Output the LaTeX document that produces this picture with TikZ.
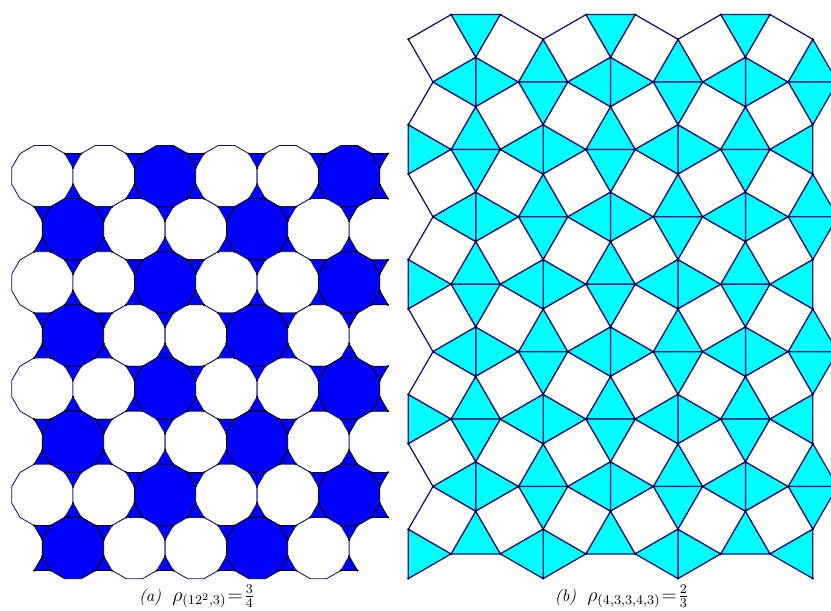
\documentclass[tikz,border=0pt]{standalone}
\usepackage{amsmath}
\definecolor{edge}{RGB}{16,16,128}
\definecolor{tblue}{RGB}{0,0,255}
\definecolor{tcyan}{RGB}{0,255,255}
\tikzset{
  dod/.style={draw=edge,line width=0.5pt,fill=white,line join=round},
  dodb/.style={dod,draw=black,fill=tblue},
  tri/.style={dodb},
  sq/.style={draw=edge,line width=0.75pt,fill=white,line join=round},
  trc/.style={sq,fill=tcyan},
  vdot/.style={fill=black},
  capt/.style={anchor=base,font=\normalsize},
}
\newcommand\capmath[1]{{\large$#1$}}

\begin{document}
\begin{tikzpicture}[x=0.6pt,y=-0.6pt]
\useasboundingbox (0,0) rectangle (831,610);
% (a) dodecagons and triangles
\begin{scope}[shift={(42.4,176.1)},x=36.81pt,y=36.81pt]
\foreach \r in {0,...,7}{
  \pgfmathsetmacro\yy{-0.866025*\r}
  \pgfmathtruncatemacro\odd{mod(\r,2)}
  \foreach \c in {0,...,5}{
    \pgfmathsetmacro\tx{\c+0.5-0.5*\odd}
    \filldraw[tri,shift={(\tx,\yy+0.288675)}] (-90:0.154701) -- (30:0.154701) -- (150:0.154701) -- cycle;
    \filldraw[tri,shift={(\tx,\yy-0.288675)}] (90:0.154701) -- (210:0.154701) -- (330:0.154701) -- cycle;
  }
  \foreach \c in {0,...,5}{
    \pgfmathtruncatemacro\skp{\odd*(\c==5)}
    \ifnum\skp=0
      \pgfmathsetmacro\dx{\c+0.5*\odd}
      \pgfmathtruncatemacro\blu{mod(\c+2*\odd,3)==2}
      \ifnum\blu=1 \def\sty{dodb}\else \def\sty{dod}\fi
      \filldraw[\sty,shift={(\dx,\yy)}] (15:0.517638) \foreach \k in {1,...,11}{-- (15+30*\k:0.517638)} -- cycle;
    \fi
  }
}
% vertex dots
\foreach \r in {0,...,7}{
  \pgfmathsetmacro\yy{-0.866025*\r}
  \pgfmathtruncatemacro\odd{mod(\r,2)}
  \foreach \c in {0,...,5}{
    \pgfmathsetmacro\tx{\c+0.5-0.5*\odd}
    \foreach \a in {-90,30,150}{\fill[vdot,shift={(\tx,\yy+0.288675)}] (\a:0.154701) circle (0.75pt);}
    \foreach \a in {90,210,330}{\fill[vdot,shift={(\tx,\yy-0.288675)}] (\a:0.154701) circle (0.75pt);}
  }
}
\end{scope}
% (b) snub square tiling
\begin{scope}
\clip (0,0) rectangle (831,610);
\begin{scope}[shift={(433,82)},x=29.61pt,y=29.61pt]
\foreach \u in {-1,...,5}{
  \foreach \v in {-7,...,1}{
    \pgfmathtruncatemacro\pty{mod(\u+\v+20,2)}
    \ifnum\pty=0
    \foreach \sty/\cx/\cy/\pts in {
      sq/0.183/0.683/{(0,0)--(0.866025,0.5)--(0.366025,1.366025)--(-0.5,0.866025)},
      sq/0.183/-0.683/{(0,0)--(0.866025,-0.5)--(0.366025,-1.366025)--(-0.5,-0.866025)},
      trc/1.155/0/{(0.866025,0.5)--(0.866025,-0.5)--(1.732051,0)},
      trc/0.577/0/{(0,0)--(0.866025,0.5)--(0.866025,-0.5)},
      trc/2.232/0.289/{(1.732051,0)--(2.732051,0)--(2.232051,0.866025)},
      trc/2.232/-0.289/{(1.732051,0)--(2.732051,0)--(2.232051,-0.866025)}}{
      \pgfmathsetmacro\X{1.366025*\u+\cx}
      \pgfmathsetmacro\Y{1.366025*\v+\cy}
      \pgfmathtruncatemacro\ok{(\X>-0.35)&&(\X<7.8)&&(\Y>-9.7)&&(\Y<1.2)}
      \ifnum\ok=1 \filldraw[\sty,shift={(1.366025*\u,1.366025*\v)}] \pts -- cycle;\fi
    }
    \fi
  }
}
\foreach \u in {-2,...,6}{
  \foreach \v in {-8,...,2}{
    \pgfmathtruncatemacro\pty{mod(\u+\v+20,2)}
    \ifnum\pty=0
    \foreach \px/\py in {0/0,0.866025/0.5,0.866025/-0.5,1.732051/0}{
      \pgfmathsetmacro\X{1.366025*\u+\px}
      \pgfmathsetmacro\Y{1.366025*\v+\py}
      \pgfmathtruncatemacro\ok{(\X>-0.6)&&(\X<8.3)&&(\Y>-10.2)&&(\Y<1.5)}
      \ifnum\ok=1 \fill[vdot] (\X,\Y) circle (0.7pt);\fi
    }
    \fi
  }
}
\end{scope}
\end{scope}
\node[capt] (capa) at (197,601) {\textit{(a)}\ \ \capmath{\rho_{(12^2,3)}\mkern1mu{=}\mkern1mu\frac{3}{4}}};
\node[capt] (capb) at (622,601) {\textit{(b)}\ \ \capmath{\rho_{(4,3,3,4,3)}\mkern1mu{=}\mkern1mu\frac{2}{3}}};
\end{tikzpicture}
\end{document}
